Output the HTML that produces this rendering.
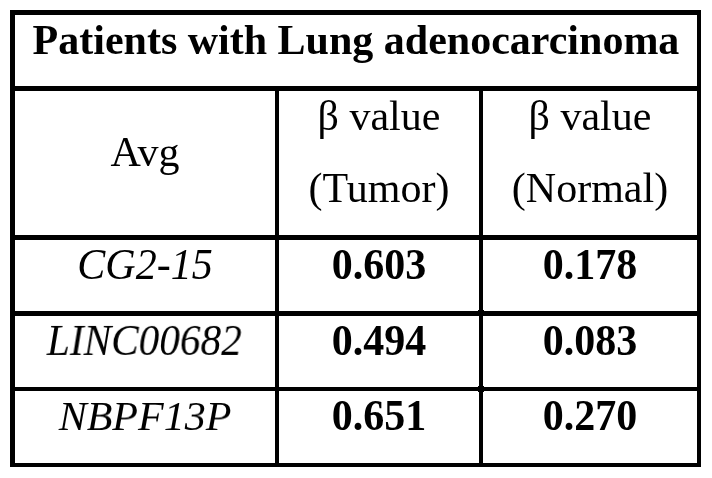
<!DOCTYPE html>
<html><head><meta charset="utf-8"><style>
html,body{margin:0;padding:0;background:#fff;width:712px;height:478px;overflow:hidden;position:relative}
.b{position:absolute;background:#000}
.t{position:absolute;will-change:transform;text-align:center;font-family:"Liberation Serif",serif;font-size:42px;line-height:42px;white-space:nowrap;color:#000}
.bo{font-weight:bold}
.it{font-style:italic}
.lc{transform:translateX(-0.7px) scaleX(0.982) scaleY(1.03);transform-origin:50% 35px}
.cg{transform:scaleY(1.06);transform-origin:50% 32px}
.nb{transform:scaleY(0.965);transform-origin:50% 35px}
.num{transform:translateY(0.4px) scaleY(1.07);transform-origin:50% 35px}
</style></head><body>
<div class="b" style="left:10px;top:10px;width:691px;height:5px"></div>
<div class="b" style="left:10px;top:463px;width:691px;height:4px"></div>
<div class="b" style="left:10px;top:10px;width:5px;height:457px"></div>
<div class="b" style="left:697px;top:10px;width:4px;height:457px"></div>
<div class="b" style="left:10px;top:86px;width:691px;height:5px"></div>
<div class="b" style="left:10px;top:235px;width:691px;height:5px"></div>
<div class="b" style="left:10px;top:311px;width:691px;height:5px"></div>
<div class="b" style="left:10px;top:387px;width:691px;height:4px"></div>
<div class="b" style="left:275px;top:86px;width:4px;height:381px"></div>
<div class="b" style="left:479px;top:86px;width:4px;height:381px"></div>
<div class="b" style="left:478px;top:310px;width:6px;height:6px"></div>
<div class="b" style="left:478px;top:386px;width:6px;height:6px"></div>
<div class="t bo" style="left:15px;top:19px;width:682px">Patients with Lung adenocarcinoma</div>
<div class="t " style="left:15px;top:131px;width:260px">Avg</div>
<div class="t " style="left:279px;top:95px;width:200px">β value</div>
<div class="t " style="left:279px;top:167px;width:200px">(Tumor)</div>
<div class="t " style="left:483px;top:95px;width:214px">β value</div>
<div class="t " style="left:483px;top:167px;width:214px">(Normal)</div>
<div class="t it cg" style="left:15px;top:244px;width:260px">CG2-15</div>
<div class="t it lc" style="left:15px;top:320px;width:260px">LINC00682</div>
<div class="t it nb" style="left:15px;top:395px;width:260px">NBPF13P</div>
<div class="t bo num" style="left:279px;top:244px;width:200px">0.603</div>
<div class="t bo num" style="left:279px;top:320px;width:200px">0.494</div>
<div class="t bo num" style="left:279px;top:395px;width:200px">0.651</div>
<div class="t bo num" style="left:483px;top:244px;width:214px">0.178</div>
<div class="t bo num" style="left:483px;top:320px;width:214px">0.083</div>
<div class="t bo num" style="left:483px;top:395px;width:214px">0.270</div>
</body></html>
